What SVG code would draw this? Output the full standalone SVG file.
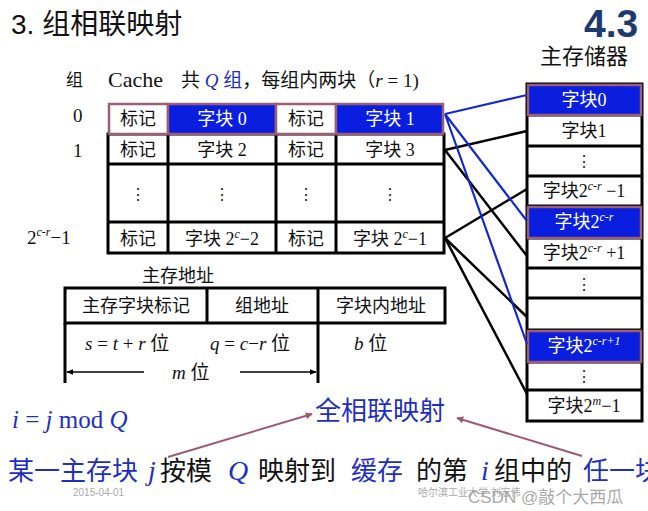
<svg xmlns="http://www.w3.org/2000/svg" width="648" height="511" viewBox="0 0 648 511">
<defs>
<style>
.s{font-family:"Liberation Serif","Noto Sans CJK SC",serif;}
.ss{font-family:"Liberation Sans","Noto Sans CJK SC",sans-serif;}
.cell{font-family:"Liberation Serif","Noto Sans CJK SC",serif;font-size:18px;fill:#111;text-anchor:middle;}
.cellw{font-family:"Liberation Serif","Noto Sans CJK SC",serif;font-size:18px;fill:#fff;text-anchor:middle;}
.hl{fill:#0a1ee0;stroke:#9a5f78;stroke-width:2.5;}
.pw{fill:#fff;stroke:#9a5f78;stroke-width:2.5;}
.frame{fill:#fff;stroke:#000;stroke-width:3;}
.ln{stroke:#000;stroke-width:3;fill:none;}
.blue{stroke:#1428d0;stroke-width:2.2;fill:none;}
.blk{stroke:#000;stroke-width:2.5;fill:none;}
.dots{font-family:"Liberation Serif",serif;font-size:16px;fill:#222;text-anchor:middle;}
.bt{fill:#1e2fc0;}
.sup{font-size:12px;font-style:italic;}
</style>
<marker id="ah" viewBox="0 0 10 10" refX="9" refY="5" markerWidth="7" markerHeight="7" orient="auto" markerUnits="userSpaceOnUse">
<path d="M0,0 L10,5 L0,10 z" fill="#9e5a6c"/>
</marker>
<marker id="ab" viewBox="0 0 10 10" refX="9" refY="5" markerWidth="7" markerHeight="7" orient="auto-start-reverse" markerUnits="userSpaceOnUse">
<path d="M0,1 L10,5 L0,9 z" fill="#000"/>
</marker>
</defs>
<rect width="648" height="511" fill="#fff"/>

<g id="title">
<text x="11" y="34" class="ss" font-size="28" fill="#111">3. 组相联映射</text>
<text x="584" y="37" font-family="Liberation Sans,sans-serif" font-size="39" font-weight="bold" fill="#1c3a6e">4.3</text>
<text x="540" y="64" class="s" font-size="22" fill="#111">主存储器</text>
</g>

<g id="cache-header">
<text x="66" y="86" class="s" font-size="17" fill="#111">组</text>
<text x="108" y="87" class="s" font-size="22" fill="#111">Cache</text>
<text x="181" y="87" class="s" font-size="19" fill="#111">共 <tspan class="bt" font-style="italic">Q</tspan> <tspan class="bt">组</tspan>，每组内两块（<tspan font-style="italic">r</tspan> = 1)</text>
</g>

<g id="group-labels" class="s" fill="#111" font-size="19">
<text x="73" y="122">0</text>
<text x="73" y="157">1</text>
<text x="27" y="244">2<tspan class="sup" dy="-8">c-r</tspan><tspan dy="8">−1</tspan></text>
</g>

<g id="cache">
<rect x="108" y="134" width="336" height="119" class="frame"/>
<path class="ln" d="M108,164H444M108,222H444M168,134V253M276,134V253M336,134V253"/>
<rect x="109" y="104" width="59" height="30" class="pw"/>
<rect x="168" y="104" width="108" height="30" class="hl"/>
<rect x="276" y="104" width="60" height="30" class="pw"/>
<rect x="336" y="104" width="107" height="30" class="hl"/>
<text x="138" y="125" class="cell">标记</text>
<text x="222" y="125" class="cellw">字块 0</text>
<text x="306" y="125" class="cell">标记</text>
<text x="390" y="125" class="cellw">字块 1</text>
<text x="138" y="156" class="cell">标记</text>
<text x="222" y="156" class="cell">字块 2</text>
<text x="306" y="156" class="cell">标记</text>
<text x="390" y="156" class="cell">字块 3</text>
<text x="138" y="200" class="dots">⋮</text>
<text x="222" y="200" class="dots">⋮</text>
<text x="306" y="200" class="dots">⋮</text>
<text x="390" y="200" class="dots">⋮</text>
<text x="138" y="245" class="cell">标记</text>
<text x="222" y="245" class="cell">字块 2<tspan class="sup" dy="-7">c</tspan><tspan dy="7">−2</tspan></text>
<text x="306" y="245" class="cell">标记</text>
<text x="390" y="245" class="cell">字块 2<tspan class="sup" dy="-7">c</tspan><tspan dy="7">−1</tspan></text>
</g>

<g id="memory">
<rect x="527" y="84" width="115" height="337" class="frame"/>
<path class="ln" d="M527,115H642M527,146H642M527,176H642M527,206H642M527,238H642M527,268H642M527,298H642M527,330H642M527,362H642M527,390H642"/>
<rect x="528" y="85" width="113" height="30" class="hl"/>
<rect x="528" y="207" width="113" height="31" class="hl"/>
<rect x="528" y="331" width="113" height="31" class="hl"/>
<text x="584" y="106" class="cellw">字块0</text>
<text x="584" y="137" class="cell">字块1</text>
<text x="584" y="167" class="dots">⋮</text>
<text x="584" y="197" class="cell">字块2<tspan class="sup" dy="-7">c-r</tspan><tspan dy="7"> −1</tspan></text>
<text x="584" y="228" class="cellw">字块2<tspan class="sup" dy="-7">c-r</tspan></text>
<text x="584" y="259" class="cell">字块2<tspan class="sup" dy="-7">c-r</tspan><tspan dy="7"> +1</tspan></text>
<text x="584" y="290" class="dots">⋮</text>
<text x="584" y="352" class="cellw">字块2<tspan class="sup" dy="-7">c-r+1</tspan></text>
<text x="584" y="382" class="dots">⋮</text>
<text x="584" y="412" class="cell">字块2<tspan class="sup" dy="-7">m</tspan><tspan dy="7">−1</tspan></text>
</g>

<g id="connectors">
<path class="blk" d="M445,150L527,131M445,150L527,256M445,238L527,189M445,238L527,317M445,238L527,394"/>
<path class="blue" d="M445,114L527,95M445,114L527,221M445,114L527,344"/>
<path d="M168,457L312,414" stroke="#9e5a6c" stroke-width="2" marker-end="url(#ah)"/>
<path d="M582,456L457,418" stroke="#9e5a6c" stroke-width="2" marker-end="url(#ah)"/>
</g>

<g id="address">
<text x="178" y="282" class="cell" font-size="19">主存地址</text>
<rect x="65" y="288" width="380" height="35" class="frame"/>
<path class="ln" d="M207,288V323M318,288V323"/>
<path class="ln" d="M65,323V383M318,323V383" stroke-width="2"/>
<text x="136" y="312" class="cell" font-size="19">主存字块标记</text>
<text x="262" y="312" class="cell" font-size="19">组地址</text>
<text x="381" y="312" class="cell" font-size="19">字块内地址</text>
<text x="85" y="350" class="s" font-size="19" fill="#111"><tspan font-style="italic">s</tspan> = <tspan font-style="italic">t</tspan> + <tspan font-style="italic">r</tspan>  位</text>
<text x="210" y="350" class="s" font-size="19" fill="#111"><tspan font-style="italic">q</tspan> = <tspan font-style="italic">c</tspan>−<tspan font-style="italic">r</tspan> 位</text>
<text x="354" y="350" class="s" font-size="19" fill="#111"><tspan font-style="italic">b</tspan> 位</text>
<path d="M144,372H67" stroke="#000" stroke-width="1.5" marker-end="url(#ab)"/>
<path d="M240,372H316" stroke="#000" stroke-width="1.5" marker-end="url(#ab)"/>
<text x="172" y="379" class="s" font-size="19" fill="#111"><tspan font-style="italic">m</tspan> 位</text>
</g>

<g id="notes">
<text x="12" y="428" class="s bt" font-size="25"><tspan font-style="italic">i</tspan> = <tspan font-style="italic">j</tspan> mod <tspan font-style="italic">Q</tspan></text>
<text x="315" y="420" class="ss bt" font-size="26">全相联映射</text>
<g class="ss" font-size="26">
<text x="8" y="480" class="bt">某一主存块</text>
<text x="148" y="480" class="s bt" font-style="italic" font-size="28">j</text>
<text x="160" y="480" fill="#111">按模</text>
<text x="228" y="480" class="s bt" font-style="italic" font-size="28">Q</text>
<text x="258" y="480" fill="#111">映射到</text>
<text x="351" y="480" class="bt">缓存</text>
<text x="416" y="480" fill="#111">的第</text>
<text x="481" y="480" class="s bt" font-style="italic" font-size="28">i</text>
<text x="494" y="480" fill="#111">组中的</text>
<text x="583" y="480" class="bt">任一块</text>
</g>
<text x="73" y="496" class="ss" font-size="10" fill="#aaa">2015-04-01</text>
<text x="418" y="496" class="ss" font-size="10" fill="#aaa">哈尔滨工业大学 刘宏伟</text>
<text x="468" y="503" class="ss" font-size="17" fill="#9a9a9a" opacity="0.85">CSDN @敲个大西瓜</text>
</g>
</svg>
